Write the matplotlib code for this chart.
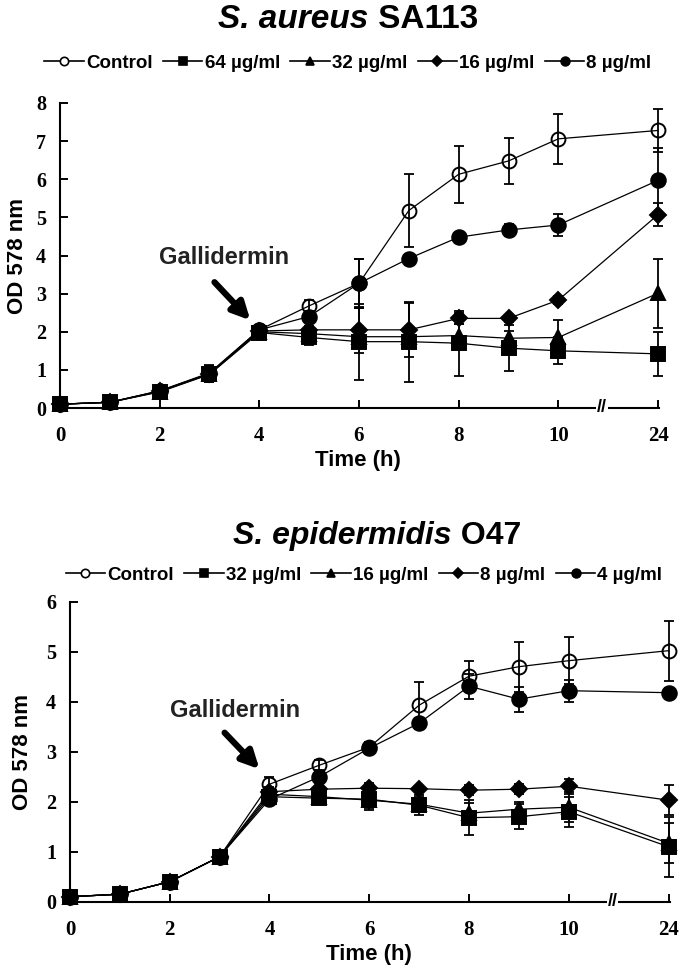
import numpy as np
import matplotlib.pyplot as plt
import matplotlib.patheffects as pe
from matplotlib.lines import Line2D

# tempo de coleta (h); o ponto de 24 h fica depois da quebra do eixo
hours = [0, 1, 2, 3, 4, 5, 6, 7, 8, 9, 10, 24]
xticks_h = [0, 2, 4, 6, 8, 10, 24]

# S. aureus SA113
sa_labels = ["Control", "64 \u00b5g/ml", "32 \u00b5g/ml", "16 \u00b5g/ml", "8 \u00b5g/ml"]
sa_ctrl = [0.10, 0.15, 0.45, 0.90, 2.05, 2.68, 3.27, 5.18, 6.13, 6.48, 7.06, 7.28]
sa_ctrl_err = [0.05, 0.05, 0.10, 0.20, 0.10, 0.15, 0.65, 0.95, 0.75, 0.60, 0.65, 0.56]
sa_64 = [0.10, 0.15, 0.42, 0.88, 1.98, 1.85, 1.74, 1.74, 1.70, 1.57, 1.50, 1.42]
sa_64_err = [0.05, 0.05, 0.10, 0.20, 0.15, 0.20, 1.00, 1.05, 0.85, 0.60, 0.35, 0.58]
sa_32 = [0.10, 0.15, 0.43, 0.89, 2.00, 1.95, 1.87, 1.87, 1.90, 1.83, 1.85, 3.01]
sa_32_err = [0.05, 0.05, 0.10, 0.20, 0.10, 0.10, 0.20, 0.20, 0.30, 0.20, 0.45, 0.90]
sa_16 = [0.10, 0.15, 0.44, 0.90, 2.02, 2.05, 2.05, 2.05, 2.35, 2.35, 2.83, 5.07]
sa_16_err = [0.05, 0.05, 0.10, 0.20, 0.10, 0.10, 0.60, 0.70, 0.15, 0.10, 0.10, 0.30]
sa_8 = [0.10, 0.15, 0.45, 0.92, 2.05, 2.40, 3.27, 3.92, 4.48, 4.67, 4.80, 5.97]
sa_8_err = [0.05, 0.05, 0.10, 0.20, 0.10, 0.15, 0.65, 0.10, 0.10, 0.15, 0.30, 0.85]

# S. epidermidis O47
se_labels = ["Control", "32 \u00b5g/ml", "16 \u00b5g/ml", "8 \u00b5g/ml", "4 \u00b5g/ml"]
se_ctrl = [0.10, 0.15, 0.40, 0.90, 2.35, 2.73, 3.09, 3.93, 4.51, 4.70, 4.82, 5.02]
se_ctrl_err = [0.03, 0.05, 0.05, 0.10, 0.15, 0.10, 0.10, 0.47, 0.30, 0.50, 0.47, 0.60]
se_32 = [0.10, 0.15, 0.40, 0.90, 2.10, 2.07, 2.05, 1.93, 1.68, 1.70, 1.80, 1.10]
se_32_err = [0.03, 0.05, 0.05, 0.10, 0.10, 0.10, 0.22, 0.20, 0.35, 0.25, 0.30, 0.60]
se_16 = [0.10, 0.15, 0.40, 0.90, 2.15, 2.10, 2.03, 1.95, 1.77, 1.85, 1.89, 1.17]
se_16_err = [0.03, 0.05, 0.05, 0.10, 0.10, 0.10, 0.15, 0.15, 0.20, 0.15, 0.30, 0.40]
se_8 = [0.10, 0.15, 0.40, 0.90, 2.20, 2.25, 2.27, 2.26, 2.23, 2.25, 2.31, 2.03]
se_8_err = [0.03, 0.05, 0.05, 0.10, 0.10, 0.05, 0.10, 0.05, 0.10, 0.10, 0.15, 0.30]
se_4 = [0.10, 0.15, 0.40, 0.90, 2.05, 2.50, 3.07, 3.57, 4.31, 4.05, 4.22, 4.18]
se_4_err = [0.03, 0.05, 0.05, 0.10, 0.10, 0.10, 0.10, 0.10, 0.25, 0.25, 0.22, 0.10]

markers = ["o", "s", "^", "D", "o"]
faces = ["white", "black", "black", "black", "black"]
msizes = [10.0, 9.5, 10.0, 8.5, 10.5]

SANS = "Liberation Sans"
SERIF = "Liberation Serif"

W, H = 680.0, 976.0


def xpos(h):
    # eixo com quebra: 24 h desenhado na posicao 12
    return [v if v <= 10 else 12 for v in h]


fig = plt.figure(figsize=(6.8, 9.76), dpi=100)


def painel(rect, series, errs, labels, ymax, arrow_xy, text_xy, leg_xy, ylab_x):
    ax = fig.add_axes(rect)
    x = xpos(hours)
    for y, e, m, fc, ms in zip(series, errs, markers, faces, msizes):
        ax.plot(x, y, ls="none", marker=m, ms=ms, mfc=fc, mec="black",
                mew=1.4, zorder=2, clip_on=False)
        ax.plot(x, y, "-", color="black", lw=0.9, zorder=3, clip_on=False)
        ax.errorbar(x, y, yerr=e, fmt="none", ecolor="black", elinewidth=1.3,
                    capsize=3.5, capthick=1.3, zorder=3, clip_on=False)

    ax.set_xlim(-0.05, 12.02)
    ax.set_ylim(0, ymax)
    ax.spines["left"].set_position(("data", 0))
    ax.spines["top"].set_visible(False)
    ax.spines["right"].set_visible(False)
    for s in ("left", "bottom"):
        ax.spines[s].set_linewidth(1.5)
    ax.set_xticks(xpos(xticks_h))
    ax.set_xticklabels([str(v) for v in xticks_h])
    ax.set_yticks(range(0, ymax + 1))
    ax.tick_params(direction="in", length=6, width=1.4, pad=10)
    ax.tick_params(axis="x", pad=13)
    for t in ax.get_xticklabels():
        t.set_fontfamily(SERIF)
        t.set_fontweight("bold")
        t.set_fontsize(15)
    for t in ax.get_yticklabels():
        t.set_fontfamily(SERIF)
        t.set_fontweight("bold")
        t.set_fontsize(14.5)

    ax.set_xlabel("Time (h)", fontfamily=SANS, fontweight="bold", fontsize=16, labelpad=3)
    ax.set_ylabel("OD 578 nm", fontfamily=SANS, fontweight="bold", fontsize=16)
    ax.yaxis.set_label_coords(ylab_x, 0.5)

    # quebra do eixo
    ax.text(10.88, 0, "//", ha="center", va="center", fontsize=13, fontweight="bold",
            fontfamily=SANS, bbox=dict(fc="white", ec="none", pad=0.5), zorder=5, clip_on=False)

    ax.text(text_xy[0][0], text_xy[0][1], "Gallidermin", ha="center", va="center",
            fontsize=17, fontweight="bold", fontfamily=SANS, color="#222222")
    ax.annotate("", xy=arrow_xy, xytext=text_xy[1],
                arrowprops=dict(arrowstyle="-|>", lw=4.5, color="black", mutation_scale=26,
                                shrinkA=0, shrinkB=0,
                                path_effects=[pe.withSimplePatchShadow(offset=(1.5, -1.5),
                                                                       alpha=0.35)]))

    handles = [Line2D([0], [0], color="black", lw=1.2, marker=m, ms=ms * 0.6,
                      mfc=fc, mec="black", mew=1.2)
               for m, fc, ms in zip(markers, faces, msizes)]
    fig.legend(handles, labels, loc="center", bbox_to_anchor=leg_xy, ncol=5,
               frameon=False, handlelength=2.1, handletextpad=0.12, columnspacing=0.55,
               prop=dict(family=SANS, weight="bold", size=13.5))
    return ax


painel([57.5 / W, 1 - 408 / H, 601.5 / W, 305 / H],
       [sa_ctrl, sa_64, sa_32, sa_16, sa_8],
       [sa_ctrl_err, sa_64_err, sa_32_err, sa_16_err, sa_8_err],
       sa_labels, 8, (3.82, 2.3), [(3.3, 3.94), (3.1, 3.3)], (348 / W, 1 - 63 / H),
       (28 - 57.5) / 601.5)

painel([67.5 / W, 1 - 901.7 / H, 602 / W, 300 / H],
       [se_ctrl, se_32, se_16, se_8, se_4],
       [se_ctrl_err, se_32_err, se_16_err, se_8_err, se_4_err],
       se_labels, 6, (3.8, 2.65), [(3.3, 3.83), (3.1, 3.38)], (364 / W, 1 - 575 / H),
       (33 - 67.5) / 602)


def titulo(xc, yb, it, rest, size):
    r = fig.canvas.get_renderer()
    t1 = fig.text(0, yb, it, fontfamily=SANS, fontstyle="italic", fontweight="bold",
                  fontsize=size, va="baseline")
    t2 = fig.text(0, yb, rest, fontfamily=SANS, fontweight="bold",
                  fontsize=size, va="baseline")
    w1 = t1.get_window_extent(r).width
    w2 = t2.get_window_extent(r).width
    x0 = xc * W - (w1 + w2) / 2
    t1.set_x(x0 / W)
    t2.set_x((x0 + w1) / W)


titulo(348 / W, 1 - 28 / H, "S. aureus", " SA113", 24)
titulo(377 / W, 1 - 544 / H, "S. epidermidis", " O47", 23)

fig.savefig("out.png", dpi=100)
